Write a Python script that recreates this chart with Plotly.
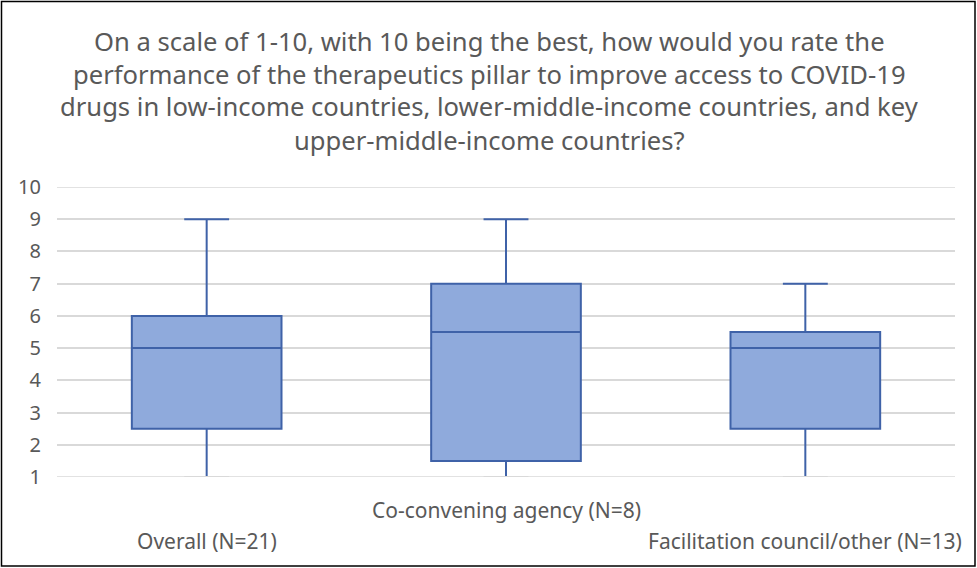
import plotly.graph_objects as go

categories = ["Overall (N=21)", "Co-convening agency (N=8)", "Facilitation council/other (N=13)"]
mins = [1, 1, 1]
q1s = [2.5, 1.5, 2.5]
medians = [5, 5.5, 5]
q3s = [6, 7, 5.5]
maxs = [9, 9, 7]
title_lines = [
    "On a scale of 1-10, with 10 being the best, how would you rate the",
    "performance of the therapeutics pillar to improve access to COVID-19",
    "drugs in low-income countries, lower-middle-income countries, and key",
    "upper-middle-income countries?",
]
y_ticks = list(range(1, 11))

FONT = "Noto Sans"
TXT = "#595959"
LINE = "#3F62A8"
FILL = "#8FAADC"

W, H = 977, 568
L, R, T, B = 57, 22, 187, 91
PW, PH = W - L - R, H - T - B


def px(xp):
    return (xp - L) / PW


def py(yp):
    return (H - B - yp) / PH


fig = go.Figure()
pos = list(range(len(categories)))
for i, c in enumerate(categories):
    fig.add_trace(go.Box(
        x=[pos[i]], q1=[q1s[i]], median=[medians[i]], q3=[q3s[i]],
        lowerfence=[mins[i]], upperfence=[maxs[i]],
        width=0.5, whiskerwidth=0, fillcolor=FILL,
        line=dict(color=LINE, width=2), name=c, showlegend=False,
        hoverinfo="skip",
    ))
    fig.add_trace(go.Scatter(
        x=[pos[i] - 0.075, pos[i] + 0.075], y=[maxs[i], maxs[i]],
        mode="lines", line=dict(color=LINE, width=2), showlegend=False,
        hoverinfo="skip",
    ))
    fig.add_trace(go.Scatter(
        x=[pos[i] - 0.075, pos[i] + 0.075], y=[mins[i], mins[i]],
        mode="lines", line=dict(color="#D9D9D9", width=2), showlegend=False,
        hoverinfo="skip", cliponaxis=False,
    ))

label_ypix = [541, 510, 541]
for i, c in enumerate(categories):
    fig.add_annotation(x=pos[i], y=py(label_ypix[i]), xref="x", yref="paper",
                       text=c, showarrow=False,
                       font=dict(family=FONT, size=21, color=TXT),
                       xanchor="center", yanchor="middle")

title_ypix = [41, 74, 107, 140]
for t, yy in zip(title_lines, title_ypix):
    fig.add_annotation(x=px(489), y=py(yy), xref="paper", yref="paper",
                       text=t, showarrow=False,
                       font=dict(family=FONT, size=25.6, color=TXT),
                       xanchor="center", yanchor="middle")

fig.add_shape(type="rect", xref="paper", yref="paper",
              x0=px(1.5), x1=px(975), y0=py(566), y1=py(1.5),
              line=dict(color="#000000", width=1.5))

fig.update_layout(
    width=W, height=H,
    margin=dict(l=L, r=R, t=T, b=B),
    paper_bgcolor="white", plot_bgcolor="white",
    font=dict(family=FONT, color=TXT),
    xaxis=dict(range=[-0.5, 2.5], showticklabels=False, showgrid=False,
               zeroline=False, showline=False, ticks=""),
    yaxis=dict(range=[1, 10], tickvals=y_ticks, showgrid=True,
               gridcolor="#D9D9D9", gridwidth=1.5, zeroline=False,
               showline=False, ticks="", ticklabelstandoff=15,
               tickfont=dict(family=FONT, size=20, color=TXT)),
)
fig.add_shape(type="line", xref="paper", yref="y", x0=0, x1=1, y0=1, y1=1,
              line=dict(color="#D9D9D9", width=1.5), layer="below")
fig.add_shape(type="line", xref="paper", yref="y", x0=0, x1=1, y0=10, y1=10,
              line=dict(color="#D9D9D9", width=1.5), layer="below")

fig.write_html("out.html", config={"displayModeBar": False},
               post_script="document.body.style.margin='0';")
